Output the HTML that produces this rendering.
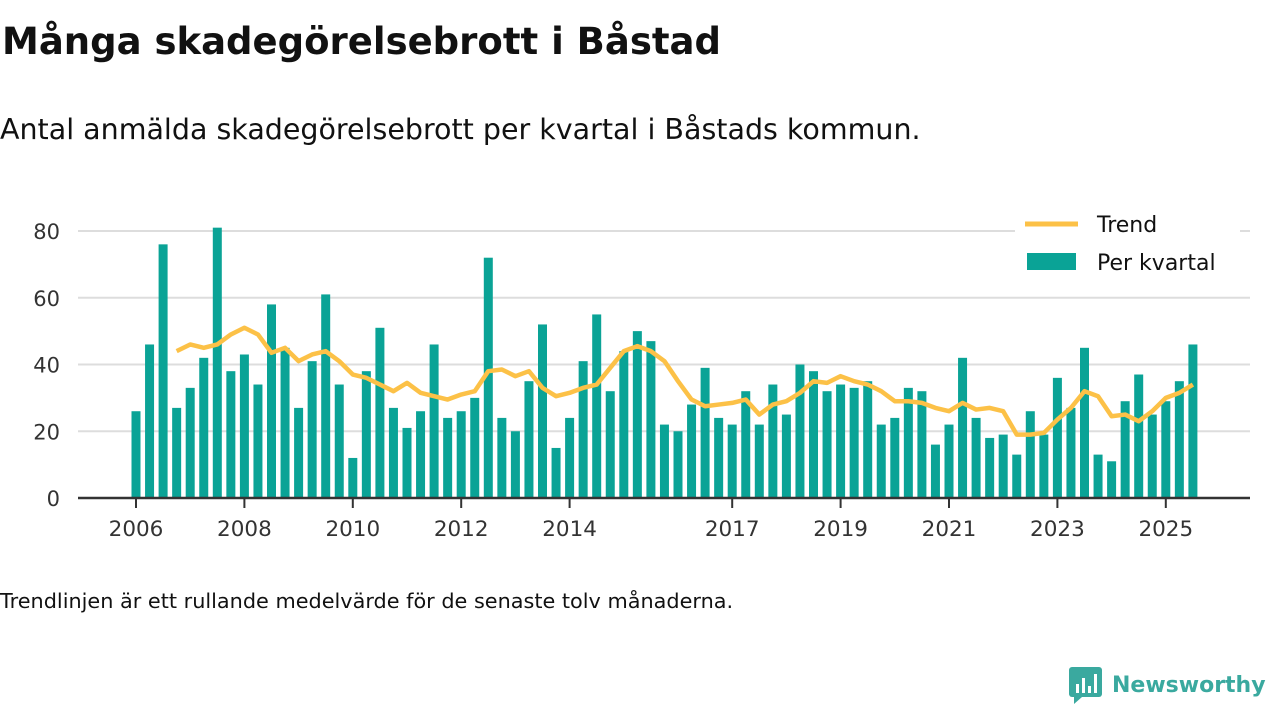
<!DOCTYPE html>
<html><head><meta charset="utf-8">
<style>
body{margin:0;width:1280px;height:720px;background:#fff;font-family:"DejaVu Sans",sans-serif;color:#111;position:relative;overflow:hidden}
#title{position:absolute;left:2px;top:20px;font-size:37px;font-weight:bold;margin:0}
#sub{position:absolute;left:0;top:113px;font-size:28.5px}
#foot{position:absolute;left:0;top:589px;font-size:20.8px}
#logo{position:absolute;left:1068px;top:666px;display:flex;align-items:center}
</style></head><body>
<h1 id="title">Många skadegörelsebrott i Båstad</h1>
<div id="sub">Antal anmälda skadegörelsebrott per kvartal i Båstads kommun.</div>
<svg id="chart" width="1280" height="720" style="position:absolute;left:0;top:0" font-family="DejaVu Sans, sans-serif"></svg>
<div id="foot">Trendlinjen är ett rullande medelvärde för de senaste tolv månaderna.</div>
<div id="logo">
<svg width="36" height="38"><rect x="1" y="1" width="33" height="30" rx="3" fill="#3aa99f"/><polygon points="6,31 14,31 6,38" fill="#3aa99f"/><rect x="8" y="18" width="3" height="9" fill="#fff"/><rect x="14" y="12" width="3" height="15" fill="#fff"/><rect x="20" y="20" width="3" height="7" fill="#fff"/><rect x="26" y="8" width="3" height="19" fill="#fff"/></svg>
<span style="font-size:22px;font-weight:bold;color:#3aa99f;margin-left:8px">Newsworthy</span></div>
<script>
const values=[26,46,76,27,33,42,81,38,43,34,58,45,27,41,61,34,12,38,51,27,21,26,46,24,26,30,72,24,20,35,52,15,24,41,55,32,44,50,47,22,20,28,39,24,22,32,22,34,25,40,38,32,34,33,35,22,24,33,32,16,22,42,24,18,19,13,26,19,36,27,45,13,11,29,37,25,29,35,46];
const trend=[null,null,null,44,46,45,46,49,51,49,43.5,45,41,43,44,41,37,36,34,32,34.5,31.5,30.5,29.5,31,32,38,38.5,36.5,38,33,30.5,31.5,33,34,39,44,45.5,44,41,35,29.5,27.5,28,28.5,29.5,25,28,29,31.5,35,34.5,36.5,35,34,32,29,29,28.5,27,26,28.5,26.5,27,26,19,19,19.5,23.5,27,32,30.5,24.5,25,23,26,30,31.5,34];
const yTicks=[0,20,40,60,80];
const xTickYears=[2006,2008,2010,2012,2014,2017,2019,2021,2023,2025];
const startYear=2006;
const svg=document.getElementById('chart');const NS='http://www.w3.org/2000/svg';
const x=i=>136+i*13.55, y=v=>498-v*(267/80);
function mk(t,a){const e=document.createElementNS(NS,t);for(const k in a)e.setAttribute(k,a[k]);svg.appendChild(e);return e;}
yTicks.forEach(v=>{
 if(v>0){const g=mk('line',{x1:78,x2:1250,y1:y(v),y2:y(v),stroke:'#ddd','stroke-width':2});
 
 }
 const t=mk('text',{x:60,y:y(v)+8,'text-anchor':'end','font-size':21,fill:'#333'});t.textContent=v;
 
 
});
values.forEach((v,i)=>{const r=mk('rect',{x:x(i)-4.5,y:y(v),width:9,height:498-y(v),fill:'#0aa396'});
 
 });
let d='';trend.forEach((v,i)=>{if(v!=null)d+=(d?'L':'M')+x(i)+','+y(v);});
const p=mk('path',{d:d,fill:'none',stroke:'#fcc147','stroke-width':4.5,'stroke-linejoin':'round'});


const ax=mk('line',{x1:78,x2:1250,y1:498,y2:498,stroke:'#333','stroke-width':2.5});


xTickYears.forEach(yr=>{const xi=x((yr-startYear)*4);
 const tk=mk('line',{x1:xi,x2:xi,y1:498,y2:508,stroke:'#333','stroke-width':2});
 
 
 const t=mk('text',{x:xi,y:536,'text-anchor':'middle','font-size':21.5,fill:'#333'});t.textContent=yr;
 
 });
const lb=mk('rect',{x:1015,y:205,width:225,height:75,fill:'#fff'});


const l1=mk('line',{x1:1025,x2:1078,y1:224,y2:224,stroke:'#fcc147','stroke-width':5});


const t1=mk('text',{x:1097,y:232,'font-size':22,fill:'#111'});t1.textContent='Trend';


const l2=mk('rect',{x:1027,y:253,width:49,height:17,fill:'#0aa396'});


const t2=mk('text',{x:1097,y:270,'font-size':22,fill:'#111'});t2.textContent='Per kvartal';


</script>
</body></html>
